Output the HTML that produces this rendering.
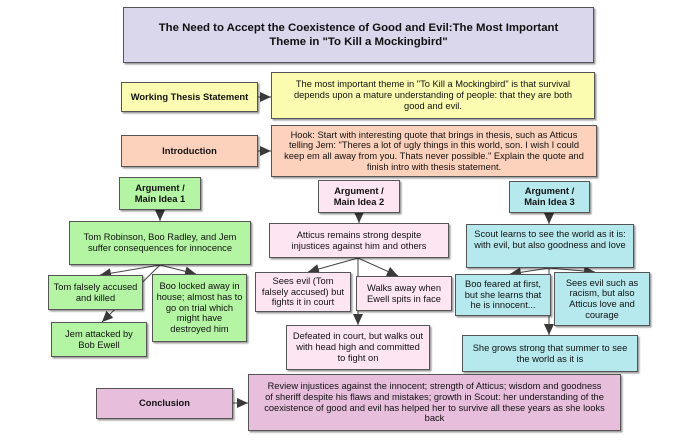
<!DOCTYPE html>
<html>
<head>
<meta charset="utf-8">
<style>
html,body{margin:0;padding:0;background:#fff;}
body{width:700px;height:441px;position:relative;overflow:hidden;font-family:"Liberation Sans",Arial,sans-serif;color:#111;}
.b{position:absolute;box-sizing:border-box;border:1px solid #555;box-shadow:1.5px 1.5px 1.5px rgba(0,0,0,.4);display:flex;align-items:center;justify-content:center;text-align:center;font-size:9.3px;line-height:10.7px;white-space:nowrap;z-index:2;}
.bold{font-weight:bold;font-size:9.4px;}
.ttl{font-weight:bold;font-size:11.4px;line-height:14px;}
.lav{background:#dad6eb;}
.yel{background:#fcfcb0;}
.pch{background:#fdd2bc;}
.grn{background:#b4f5a3;}
.pnk{background:#fde5f1;}
.cyn{background:#b5e9ed;}
.pur{background:#e7bfdd;}
svg{position:absolute;left:0;top:0;z-index:1;}
</style>
</head>
<body>
<svg width="700" height="441" viewBox="0 0 700 441">
<defs>
<marker id="a" markerUnits="userSpaceOnUse" markerWidth="12" markerHeight="12" refX="11" refY="5" orient="auto">
<path d="M0,0 L11,5 L0,10 z" fill="#3a3a3a"/>
</marker>
</defs>
<g stroke="#444" stroke-width="1" fill="none">
<line x1="258" y1="97" x2="271" y2="97" marker-end="url(#a)"/>
<line x1="258" y1="151" x2="271" y2="151" marker-end="url(#a)"/>
<line x1="233" y1="403" x2="248" y2="403" marker-end="url(#a)"/>
<line x1="160" y1="210" x2="160" y2="221" marker-end="url(#a)"/>
<line x1="359" y1="213" x2="359" y2="223" marker-end="url(#a)"/>
<line x1="549" y1="213" x2="549" y2="224" marker-end="url(#a)"/>
<line x1="160" y1="265" x2="100" y2="275" marker-end="url(#a)"/>
<line x1="160" y1="265" x2="196" y2="274" marker-end="url(#a)"/>
<line x1="160" y1="265" x2="102" y2="322" marker-end="url(#a)"/>
<line x1="358" y1="258" x2="308" y2="272" marker-end="url(#a)"/>
<line x1="358" y1="258" x2="398" y2="276" marker-end="url(#a)"/>
<line x1="358" y1="258" x2="358" y2="325" marker-end="url(#a)"/>
<line x1="549" y1="268" x2="510" y2="274" marker-end="url(#a)"/>
<line x1="549" y1="268" x2="595" y2="272" marker-end="url(#a)"/>
<line x1="549" y1="268" x2="549" y2="335" marker-end="url(#a)"/>
</g>
</svg>

<div class="b lav ttl" style="left:123px;top:7px;width:471px;height:56px;">The Need to Accept the Coexistence of Good and Evil:The Most Important<br>Theme in "To Kill a Mockingbird"</div>

<div class="b yel bold" style="left:121px;top:82px;width:137px;height:30px;">Working Thesis Statement</div>
<div class="b yel" style="left:271px;top:72px;width:324px;height:47px;">The most important theme in "To Kill a Mockingbird" is that survival<br>depends upon a mature understanding of people: that they are both<br>good and evil.</div>

<div class="b pch bold" style="left:121px;top:135px;width:137px;height:32px;">Introduction</div>
<div class="b pch" style="left:271px;top:125px;width:326px;height:52px;">Hook: Start with interesting quote that brings in thesis, such as Atticus<br>telling Jem: "Theres a lot of ugly things in this world, son. I wish I could<br>keep em all away from you. Thats never possible." Explain the quote and<br>finish intro with thesis statement.</div>

<div class="b grn bold" style="left:119px;top:177px;width:82px;height:33px;">Argument /<br>Main Idea 1</div>
<div class="b pnk bold" style="left:318px;top:180px;width:82px;height:33px;">Argument /<br>Main Idea 2</div>
<div class="b cyn bold" style="left:509px;top:181px;width:81px;height:32px;">Argument /<br>Main Idea 3</div>

<div class="b grn" style="left:69px;top:221px;width:182px;height:44px;">Tom Robinson, Boo Radley, and Jem<br>suffer consequences for innocence</div>
<div class="b grn" style="left:48px;top:275px;width:95px;height:35px;">Tom falsely accused<br>and killed</div>
<div class="b grn" style="left:152px;top:274px;width:95px;height:68px;">Boo locked away in<br>house; almost has to<br>go on trial which<br>might have<br>destroyed him</div>
<div class="b grn" style="left:51px;top:322px;width:96px;height:35px;">Jem attacked by<br>Bob Ewell</div>

<div class="b pnk" style="left:269px;top:223px;width:180px;height:35px;">Atticus remains strong despite<br>injustices against him and others</div>
<div class="b pnk" style="left:255px;top:272px;width:96px;height:40px;">Sees evil (Tom<br>falsely accused) but<br>fights it in court</div>
<div class="b pnk" style="left:356px;top:276px;width:96px;height:35px;">Walks away when<br>Ewell spits in face</div>
<div class="b pnk" style="left:286px;top:325px;width:144px;height:45px;">Defeated in court, but walks out<br>with head high and committed<br>to fight on</div>

<div class="b cyn" style="left:466px;top:224px;width:168px;height:44px;padding-bottom:13px;">Scout learns to see the world as it is:<br>with evil, but also goodness and love</div>
<div class="b cyn" style="left:455px;top:274px;width:96px;height:42px;">Boo feared at first,<br>but she learns that<br>he is innocent...</div>
<div class="b cyn" style="left:554px;top:272px;width:96px;height:54px;">Sees evil such as<br>racism, but also<br>Atticus love and<br>courage</div>
<div class="b cyn" style="left:462px;top:335px;width:176px;height:37px;">She grows strong that summer to see<br>the world as it is</div>

<div class="b pur bold" style="left:96px;top:388px;width:137px;height:31px;">Conclusion</div>
<div class="b pur" style="left:248px;top:374px;width:373px;height:57px;">Review injustices against the innocent; strength of Atticus; wisdom and goodness<br>of sheriff despite his flaws and mistakes; growth in Scout: her understanding of the<br>coexistence of good and evil has helped her to survive all these years as she looks<br>back</div>
</body>
</html>
